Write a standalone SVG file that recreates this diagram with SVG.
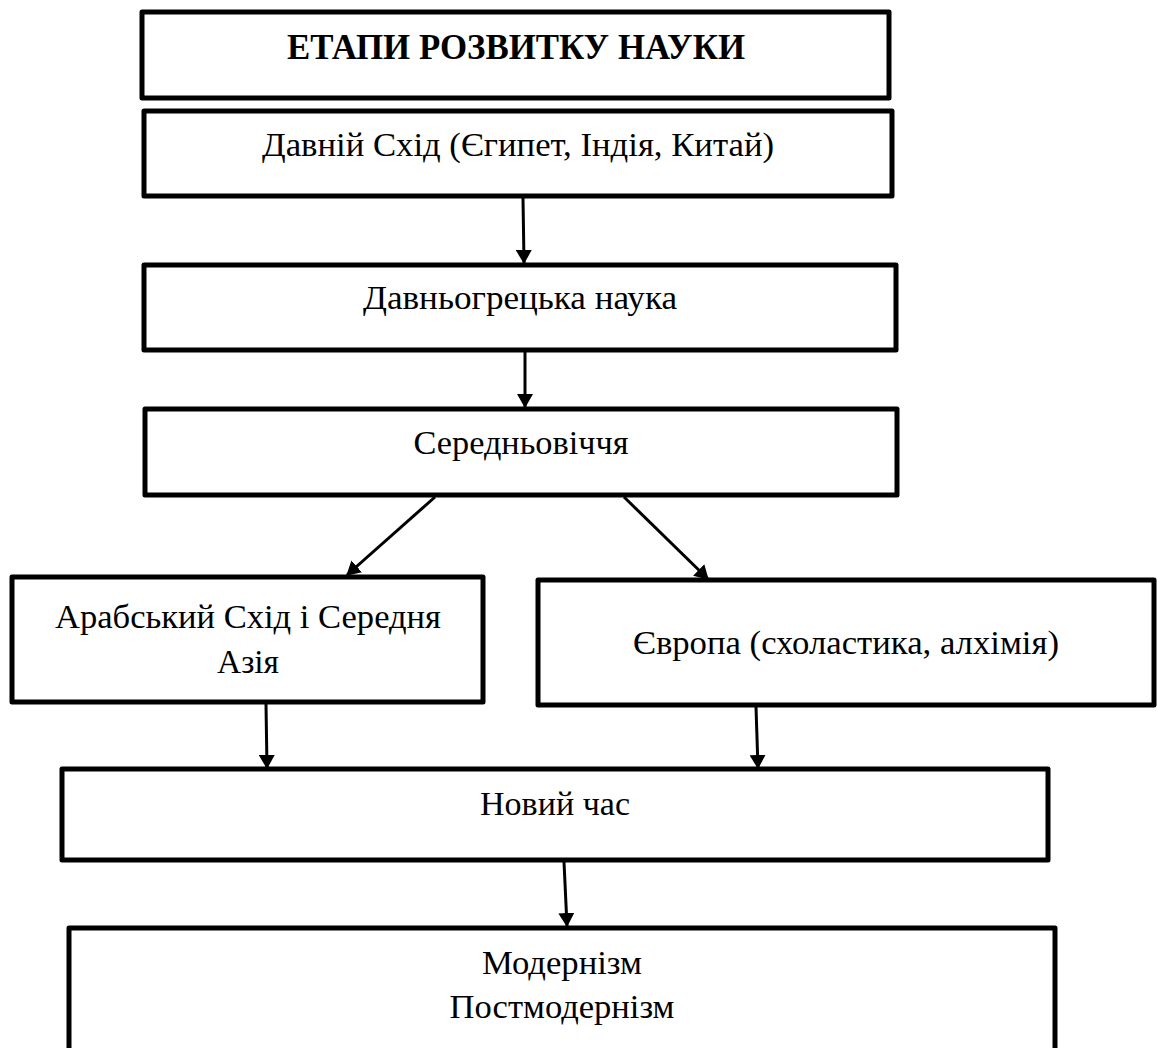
<svg xmlns="http://www.w3.org/2000/svg" width="1157" height="1048" viewBox="0 0 1157 1048">
<style>
.box{fill:#fff;stroke:#000;stroke-width:5;stroke-linejoin:round}
.lbl{font-family:"Liberation Serif","Times New Roman",serif;font-size:34px;fill:#000;text-anchor:middle}
.ttl{font-weight:bold;font-size:36px}
.conn{stroke:#000;stroke-width:3;fill:none;marker-end:url(#ah)}
</style>
<defs>
<marker id="ah" viewBox="0 0 14 16" refX="13" refY="8" markerWidth="14" markerHeight="16" markerUnits="userSpaceOnUse" orient="auto">
<path d="M0,0 L14,8 L0,16 Z" fill="#000"/>
</marker>
</defs>
<rect width="1157" height="1048" fill="#fff"/>
<g id="connectors">
<line class="conn" x1="523" y1="198" x2="524" y2="263"/>
<line class="conn" x1="525" y1="352" x2="525" y2="407"/>
<line class="conn" x1="435" y1="497" x2="347" y2="575"/>
<line class="conn" x1="624" y1="497" x2="708" y2="579"/>
<line class="conn" x1="266" y1="704" x2="267" y2="768"/>
<line class="conn" x1="756" y1="707" x2="758" y2="768"/>
<line class="conn" x1="564" y1="862" x2="567" y2="926"/>
</g>
<g id="n-title">
<rect class="box" x="142" y="12" width="747" height="86"/>
<text class="lbl ttl" x="516" y="59" textLength="458" lengthAdjust="spacingAndGlyphs">ЕТАПИ РОЗВИТКУ НАУКИ</text>
</g>
<g id="n-east">
<rect class="box" x="144" y="111" width="748" height="85"/>
<text class="lbl" x="518" y="156" textLength="512" lengthAdjust="spacingAndGlyphs">Давній Схід (Єгипет, Індія, Китай)</text>
</g>
<g id="n-greek">
<rect class="box" x="144" y="265" width="752" height="85"/>
<text class="lbl" x="520" y="309" textLength="314" lengthAdjust="spacingAndGlyphs">Давньогрецька наука</text>
</g>
<g id="n-medieval">
<rect class="box" x="145" y="409" width="752" height="86"/>
<text class="lbl" x="521" y="454" textLength="215" lengthAdjust="spacingAndGlyphs">Середньовіччя</text>
</g>
<g id="n-arab">
<rect class="box" x="12" y="577" width="471" height="125"/>
<text class="lbl" x="248" y="628" textLength="386" lengthAdjust="spacingAndGlyphs">Арабський Схід і Середня</text>
<text class="lbl" x="248" y="673" textLength="62" lengthAdjust="spacingAndGlyphs">Азія</text>
</g>
<g id="n-europe">
<rect class="box" x="538" y="580" width="616" height="125"/>
<text class="lbl" x="846" y="654" textLength="426" lengthAdjust="spacingAndGlyphs">Європа (схоластика, алхімія)</text>
</g>
<g id="n-modern-time">
<rect class="box" x="62" y="769" width="986" height="91"/>
<text class="lbl" x="555" y="815" textLength="150" lengthAdjust="spacingAndGlyphs">Новий час</text>
</g>
<g id="n-modernism">
<rect class="box" x="69" y="928" width="986" height="140"/>
<text class="lbl" x="562" y="974" textLength="160" lengthAdjust="spacingAndGlyphs">Модернізм</text>
<text class="lbl" x="562" y="1018" textLength="225" lengthAdjust="spacingAndGlyphs">Постмодернізм</text>
</g>
</svg>
